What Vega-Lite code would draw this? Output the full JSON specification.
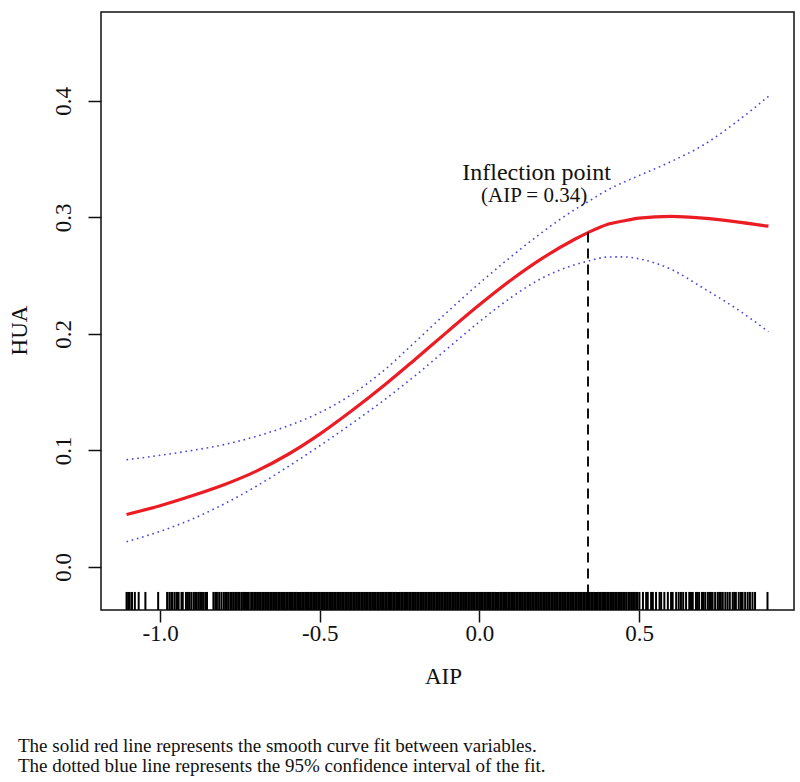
{
  "$schema": "https://vega.github.io/schema/vega-lite/v6.json",
  "width": 693,
  "height": 598,
  "autosize": {"type": "none"},
  "padding": {"left": 101, "top": 12, "right": 6, "bottom": 172},
  "background": "white",
  "config": {
    "view": {"stroke": "#111111", "strokeWidth": 1.5},
    "axis": {"grid": false},
    "axisY": {
      "domain": false,
      "tickSize": 13,
      "tickWidth": 1.5,
      "tickColor": "#111111",
      "labelFont": "Liberation Serif",
      "labelFontSize": 23,
      "labelColor": "#111111",
      "labelAngle": -90,
      "labelAlign": "center",
      "labelBaseline": "alphabetic",
      "labelPadding": 18,
      "labelFlush": false,
      "labelOverlap": false,
      "titleFont": "Liberation Serif",
      "titleFontSize": 23,
      "titleFontWeight": "normal",
      "titleColor": "#111111",
      "titleAngle": -90,
      "titleAlign": "center",
      "titleBaseline": "alphabetic",
      "titleX": -75,
      "titleY": 318
    }
  },
  "title": {
    "text": ["The solid red line represents the smooth curve fit between variables.", "The dotted blue line represents the 95% confidence interval of the fit."],
    "orient": "bottom",
    "anchor": "start",
    "frame": "group",
    "dx": -83,
    "offset": 49,
    "font": "Liberation Serif",
    "fontSize": 19,
    "fontWeight": "normal",
    "color": "#111111",
    "lineHeight": 20,
    "baseline": "top"
  },
  "datasets": {
    "fit": [
      {"x": -1.105, "fit": 0.045, "lower": 0.0216, "upper": 0.092},
      {"x": -1.0, "fit": 0.0525, "lower": 0.0305, "upper": 0.0958},
      {"x": -0.9, "fit": 0.061, "lower": 0.041, "upper": 0.1},
      {"x": -0.8, "fit": 0.0705, "lower": 0.054, "upper": 0.105},
      {"x": -0.7, "fit": 0.082, "lower": 0.069, "upper": 0.112},
      {"x": -0.6, "fit": 0.0965, "lower": 0.086, "upper": 0.121},
      {"x": -0.5, "fit": 0.114, "lower": 0.104, "upper": 0.1325},
      {"x": -0.4, "fit": 0.134, "lower": 0.123, "upper": 0.148},
      {"x": -0.3, "fit": 0.1555, "lower": 0.143, "upper": 0.1685},
      {"x": -0.2, "fit": 0.1785, "lower": 0.1645, "upper": 0.1935},
      {"x": -0.1, "fit": 0.202, "lower": 0.1875, "upper": 0.219},
      {"x": 0.0, "fit": 0.225, "lower": 0.2105, "upper": 0.2435},
      {"x": 0.1, "fit": 0.2465, "lower": 0.2315, "upper": 0.2665},
      {"x": 0.2, "fit": 0.2655, "lower": 0.2485, "upper": 0.288},
      {"x": 0.3, "fit": 0.2815, "lower": 0.2595, "upper": 0.307},
      {"x": 0.34, "fit": 0.287, "lower": 0.2625, "upper": 0.3135},
      {"x": 0.4, "fit": 0.294, "lower": 0.266, "upper": 0.3235},
      {"x": 0.45, "fit": 0.297, "lower": 0.2662, "upper": 0.33},
      {"x": 0.5, "fit": 0.2995, "lower": 0.2645, "upper": 0.336},
      {"x": 0.6, "fit": 0.301, "lower": 0.2555, "upper": 0.348},
      {"x": 0.7, "fit": 0.2995, "lower": 0.2395, "upper": 0.362},
      {"x": 0.8, "fit": 0.2965, "lower": 0.2225, "upper": 0.381},
      {"x": 0.905, "fit": 0.2925, "lower": 0.202, "upper": 0.404}
    ],
    "inflection": [{"x": 0.34, "top": 0.287, "bottom": -0.0215}],
    "notes": [
      {"x": 0.179, "y": 0.332, "label": "Inflection point", "kind": "head"},
      {"x": 0.171, "y": 0.313, "label": "(AIP = 0.34)", "kind": "value"}
    ],
    "rug": [
      {"x": -1.105}, {"x": -1.1}, {"x": -1.095}, {"x": -1.088}, {"x": -1.079}, {"x": -1.067}, {"x": -1.046}, {"x": -1.006},
      {"x": -0.978}, {"x": -0.971}, {"x": -0.965}, {"x": -0.961}, {"x": -0.954}, {"x": -0.947}, {"x": -0.942}, {"x": -0.933},
      {"x": -0.929}, {"x": -0.919}, {"x": -0.913}, {"x": -0.908}, {"x": -0.902}, {"x": -0.895}, {"x": -0.89}, {"x": -0.885},
      {"x": -0.879}, {"x": -0.874}, {"x": -0.869}, {"x": -0.864}, {"x": -0.858}, {"x": -0.853}, {"x": -0.833}, {"x": -0.827},
      {"x": -0.822}, {"x": -0.815}, {"x": -0.808}, {"x": -0.801}, {"x": -0.796}, {"x": -0.791}, {"x": -0.786}, {"x": -0.78},
      {"x": -0.776}, {"x": -0.771}, {"x": -0.765}, {"x": -0.76}, {"x": -0.755}, {"x": -0.751}, {"x": -0.745}, {"x": -0.74},
      {"x": -0.736}, {"x": -0.731}, {"x": -0.726}, {"x": -0.722},
      {"x": -0.715}, {"x": -0.71}, {"x": -0.705}, {"x": -0.7}, {"x": -0.695}, {"x": -0.69}, {"x": -0.685}, {"x": -0.68},
      {"x": -0.675}, {"x": -0.67}, {"x": -0.665}, {"x": -0.66}, {"x": -0.655}, {"x": -0.65}, {"x": -0.645}, {"x": -0.64},
      {"x": -0.635}, {"x": -0.63}, {"x": -0.625}, {"x": -0.62}, {"x": -0.615}, {"x": -0.61}, {"x": -0.605}, {"x": -0.6},
      {"x": -0.595}, {"x": -0.59}, {"x": -0.585}, {"x": -0.58}, {"x": -0.575}, {"x": -0.57}, {"x": -0.565}, {"x": -0.56},
      {"x": -0.555}, {"x": -0.55}, {"x": -0.545}, {"x": -0.54}, {"x": -0.535}, {"x": -0.53}, {"x": -0.525}, {"x": -0.52},
      {"x": -0.515}, {"x": -0.51}, {"x": -0.505}, {"x": -0.5},
      {"x": -0.495}, {"x": -0.49}, {"x": -0.485}, {"x": -0.48}, {"x": -0.475}, {"x": -0.47}, {"x": -0.465}, {"x": -0.46},
      {"x": -0.455}, {"x": -0.45}, {"x": -0.445}, {"x": -0.44}, {"x": -0.435}, {"x": -0.43}, {"x": -0.425}, {"x": -0.42},
      {"x": -0.415}, {"x": -0.41}, {"x": -0.405}, {"x": -0.4},
      {"x": -0.395}, {"x": -0.39}, {"x": -0.385}, {"x": -0.38}, {"x": -0.375}, {"x": -0.37}, {"x": -0.365}, {"x": -0.36},
      {"x": -0.355}, {"x": -0.35}, {"x": -0.345}, {"x": -0.34}, {"x": -0.335}, {"x": -0.33}, {"x": -0.325}, {"x": -0.32},
      {"x": -0.315}, {"x": -0.31}, {"x": -0.305}, {"x": -0.3},
      {"x": -0.295}, {"x": -0.29}, {"x": -0.285}, {"x": -0.28}, {"x": -0.275}, {"x": -0.27}, {"x": -0.265}, {"x": -0.26},
      {"x": -0.255}, {"x": -0.25}, {"x": -0.245}, {"x": -0.24}, {"x": -0.235}, {"x": -0.23}, {"x": -0.225}, {"x": -0.22},
      {"x": -0.215}, {"x": -0.21}, {"x": -0.205}, {"x": -0.2},
      {"x": -0.195}, {"x": -0.19}, {"x": -0.185}, {"x": -0.18}, {"x": -0.175}, {"x": -0.17}, {"x": -0.165}, {"x": -0.16},
      {"x": -0.155}, {"x": -0.15}, {"x": -0.145}, {"x": -0.14}, {"x": -0.135}, {"x": -0.13}, {"x": -0.125}, {"x": -0.12},
      {"x": -0.115}, {"x": -0.11}, {"x": -0.105}, {"x": -0.1},
      {"x": -0.095}, {"x": -0.09}, {"x": -0.085}, {"x": -0.08}, {"x": -0.075}, {"x": -0.07}, {"x": -0.065}, {"x": -0.06},
      {"x": -0.055}, {"x": -0.05}, {"x": -0.045}, {"x": -0.04}, {"x": -0.035}, {"x": -0.03}, {"x": -0.025}, {"x": -0.02},
      {"x": -0.015}, {"x": -0.01}, {"x": -0.005}, {"x": 0.0},
      {"x": 0.005}, {"x": 0.01}, {"x": 0.015}, {"x": 0.02}, {"x": 0.025}, {"x": 0.03}, {"x": 0.035}, {"x": 0.04},
      {"x": 0.045}, {"x": 0.05}, {"x": 0.055}, {"x": 0.06}, {"x": 0.065}, {"x": 0.07}, {"x": 0.075}, {"x": 0.08},
      {"x": 0.085}, {"x": 0.09}, {"x": 0.095}, {"x": 0.1},
      {"x": 0.105}, {"x": 0.11}, {"x": 0.115}, {"x": 0.12}, {"x": 0.125}, {"x": 0.13}, {"x": 0.135}, {"x": 0.14},
      {"x": 0.145}, {"x": 0.15}, {"x": 0.155}, {"x": 0.16}, {"x": 0.165}, {"x": 0.17}, {"x": 0.175}, {"x": 0.18},
      {"x": 0.185}, {"x": 0.19}, {"x": 0.195}, {"x": 0.2},
      {"x": 0.205}, {"x": 0.21}, {"x": 0.215}, {"x": 0.22}, {"x": 0.225}, {"x": 0.23}, {"x": 0.235}, {"x": 0.24},
      {"x": 0.245}, {"x": 0.25}, {"x": 0.255}, {"x": 0.26}, {"x": 0.265}, {"x": 0.27}, {"x": 0.275}, {"x": 0.28},
      {"x": 0.285}, {"x": 0.29}, {"x": 0.295}, {"x": 0.3},
      {"x": 0.305}, {"x": 0.31}, {"x": 0.315}, {"x": 0.32}, {"x": 0.325}, {"x": 0.33}, {"x": 0.335}, {"x": 0.34},
      {"x": 0.345}, {"x": 0.35}, {"x": 0.355}, {"x": 0.36}, {"x": 0.365}, {"x": 0.37}, {"x": 0.375}, {"x": 0.38},
      {"x": 0.385}, {"x": 0.39}, {"x": 0.395}, {"x": 0.4},
      {"x": 0.405}, {"x": 0.41}, {"x": 0.415}, {"x": 0.42}, {"x": 0.425}, {"x": 0.43}, {"x": 0.435}, {"x": 0.44},
      {"x": 0.445}, {"x": 0.45},
      {"x": 0.455}, {"x": 0.46}, {"x": 0.466}, {"x": 0.471}, {"x": 0.476}, {"x": 0.481}, {"x": 0.486}, {"x": 0.491},
      {"x": 0.495}, {"x": 0.501}, {"x": 0.512}, {"x": 0.522}, {"x": 0.527}, {"x": 0.5375}, {"x": 0.543}, {"x": 0.553},
      {"x": 0.564}, {"x": 0.569}, {"x": 0.579}, {"x": 0.59}, {"x": 0.6}, {"x": 0.605}, {"x": 0.616}, {"x": 0.624},
      {"x": 0.631}, {"x": 0.638}, {"x": 0.647}, {"x": 0.657}, {"x": 0.6625}, {"x": 0.668}, {"x": 0.678}, {"x": 0.683},
      {"x": 0.688}, {"x": 0.697}, {"x": 0.701}, {"x": 0.707}, {"x": 0.715}, {"x": 0.72}, {"x": 0.725}, {"x": 0.73},
      {"x": 0.738}, {"x": 0.746}, {"x": 0.751}, {"x": 0.756}, {"x": 0.762}, {"x": 0.77}, {"x": 0.777}, {"x": 0.784},
      {"x": 0.793}, {"x": 0.798}, {"x": 0.803}, {"x": 0.812}, {"x": 0.819}, {"x": 0.824}, {"x": 0.832}, {"x": 0.84},
      {"x": 0.847}, {"x": 0.855}, {"x": 0.863}, {"x": 0.902}
    ]
  },
  "encoding": {
    "x": {
      "field": "x",
      "type": "quantitative",
      "scale": {"domain": [-1.185, 0.985], "nice": false, "zero": false},
      "axis": {
        "values": [-1, -0.5, 0, 0.5],
        "labelExpr": "datum.value < 0 ? '-' + format(-datum.value, '.1f') : format(datum.value, '.1f')",
        "domain": false,
        "ticks": true,
        "tickSize": 12,
        "tickWidth": 1.5,
        "tickColor": "#111111",
        "labelFont": "Liberation Serif",
        "labelFontSize": 23,
        "labelColor": "#111111",
        "labelBaseline": "alphabetic",
        "labelPadding": 18,
        "labelFlush": false,
        "labelOverlap": false,
        "title": "AIP",
        "titleFont": "Liberation Serif",
        "titleFontSize": 23,
        "titleFontWeight": "normal",
        "titleColor": "#111111",
        "titleBaseline": "alphabetic",
        "titleAlign": "center",
        "titleX": 342,
        "titleY": 73
      }
    }
  },
  "layer": [
    {
      "data": {"name": "fit"},
      "mark": {"type": "line", "color": "#ec1c24", "strokeWidth": 3.2, "interpolate": "monotone"},
      "encoding": {
        "y": {"field": "fit", "type": "quantitative", "scale": {"domain": [-0.037, 0.4764], "nice": false, "zero": false}, "axis": {"values": [0, 0.1, 0.2, 0.3, 0.4], "format": ".1f", "title": "HUA"}}
      }
    },
    {
      "data": {"name": "fit"},
      "mark": {"type": "line", "color": "#4343e3", "strokeWidth": 1.6, "strokeDash": [1.6, 3.8], "interpolate": "monotone"},
      "encoding": {
        "y": {"field": "upper", "type": "quantitative", "scale": {"domain": [-0.037, 0.4764], "nice": false, "zero": false}, "axis": {"values": [0, 0.1, 0.2, 0.3, 0.4], "format": ".1f", "title": "HUA"}}
      }
    },
    {
      "data": {"name": "fit"},
      "mark": {"type": "line", "color": "#4343e3", "strokeWidth": 1.6, "strokeDash": [1.6, 3.8], "interpolate": "monotone"},
      "encoding": {
        "y": {"field": "lower", "type": "quantitative", "scale": {"domain": [-0.037, 0.4764], "nice": false, "zero": false}, "axis": {"values": [0, 0.1, 0.2, 0.3, 0.4], "format": ".1f", "title": "HUA"}}
      }
    },
    {
      "data": {"name": "rug"},
      "mark": {"type": "rule", "color": "#000000", "strokeWidth": 2},
      "encoding": {
        "y": {"datum": -0.037, "type": "quantitative", "scale": {"domain": [-0.037, 0.4764], "nice": false, "zero": false}, "axis": {"values": [0, 0.1, 0.2, 0.3, 0.4], "format": ".1f", "title": "HUA"}},
        "y2": {"datum": -0.0215}
      }
    },
    {
      "data": {"name": "inflection"},
      "mark": {"type": "rule", "color": "#111111", "strokeWidth": 2, "strokeDash": [10, 6]},
      "encoding": {
        "y": {"field": "top", "type": "quantitative", "scale": {"domain": [-0.037, 0.4764], "nice": false, "zero": false}, "axis": {"values": [0, 0.1, 0.2, 0.3, 0.4], "format": ".1f", "title": "HUA"}},
        "y2": {"field": "bottom"}
      }
    },
    {
      "data": {"name": "notes"},
      "transform": [{"filter": "datum.kind == 'head'"}],
      "mark": {"type": "text", "font": "Liberation Serif", "fontSize": 24, "color": "#111111", "align": "center", "baseline": "alphabetic"},
      "encoding": {
        "y": {"field": "y", "type": "quantitative", "scale": {"domain": [-0.037, 0.4764], "nice": false, "zero": false}, "axis": {"values": [0, 0.1, 0.2, 0.3, 0.4], "format": ".1f", "title": "HUA"}},
        "text": {"field": "label"}
      }
    },
    {
      "data": {"name": "notes"},
      "transform": [{"filter": "datum.kind == 'value'"}],
      "mark": {"type": "text", "font": "Liberation Serif", "fontSize": 21, "color": "#111111", "align": "center", "baseline": "alphabetic"},
      "encoding": {
        "y": {"field": "y", "type": "quantitative", "scale": {"domain": [-0.037, 0.4764], "nice": false, "zero": false}, "axis": {"values": [0, 0.1, 0.2, 0.3, 0.4], "format": ".1f", "title": "HUA"}},
        "text": {"field": "label"}
      }
    }
  ]
}
